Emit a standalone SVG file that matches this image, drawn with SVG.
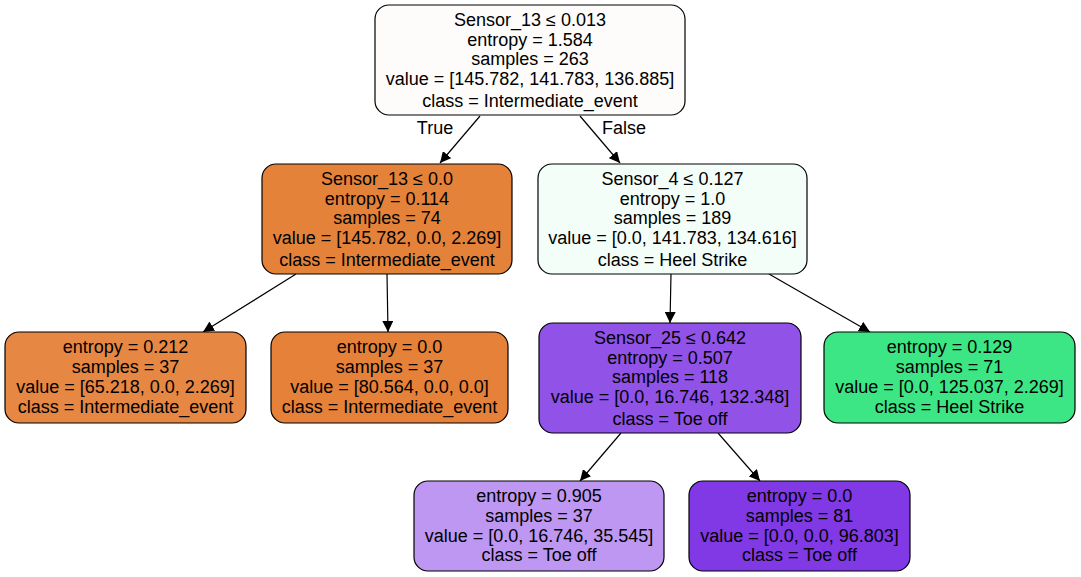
<svg xmlns="http://www.w3.org/2000/svg" width="1081" height="577" viewBox="0 0 1081 577">
<defs>
<marker id="arr" viewBox="0 0 10 10" refX="10" refY="5" markerWidth="11" markerHeight="11" markerUnits="userSpaceOnUse" orient="auto">
<path d="M0,0 L10,5 L0,10 z" fill="#000"/>
</marker>
</defs>
<style>
.n rect{stroke:#000;stroke-width:1.2}
text{font-family:"Liberation Sans",Arial,sans-serif;font-size:18px;fill:#000;text-anchor:middle}
.e line{stroke:#000;stroke-width:1.2;marker-end:url(#arr)}
</style>
<rect width="1081" height="577" fill="#fff"/>
<g class="e" id="edges">
<line x1="480" y1="116" x2="440" y2="163"/>
<line x1="580" y1="116" x2="620" y2="163"/>
<line x1="296" y1="274" x2="203" y2="332"/>
<line x1="387" y1="274" x2="388" y2="332"/>
<line x1="671" y1="274" x2="670" y2="323"/>
<line x1="769" y1="274" x2="870" y2="332"/>
<line x1="621" y1="433" x2="580" y2="481"/>
<line x1="718" y1="433" x2="760" y2="481"/>
<text x="435" y="134">True</text>
<text x="624" y="134">False</text>
</g>
<g class="n" id="n0">
<rect x="375" y="5" width="310" height="110" rx="14" fill="#fdfcfa"/>
<text x="530" y="26">Sensor_13 ≤ 0.013</text>
<text x="530" y="46">entropy = 1.584</text>
<text x="530" y="65">samples = 263</text>
<text x="530" y="85">value = [145.782, 141.783, 136.885]</text>
<text x="530" y="107">class = Intermediate_event</text>
</g>
<g class="n" id="n1">
<rect x="262" y="164" width="250" height="110" rx="14" fill="#e5823a"/>
<text x="387" y="185">Sensor_13 ≤ 0.0</text>
<text x="387" y="205">entropy = 0.114</text>
<text x="387" y="224">samples = 74</text>
<text x="387" y="244">value = [145.782, 0.0, 2.269]</text>
<text x="387" y="266">class = Intermediate_event</text>
</g>
<g class="n" id="n2">
<rect x="5" y="332" width="241" height="91" rx="14" fill="#e68743"/>
<text x="125.5" y="353">entropy = 0.212</text>
<text x="125.5" y="373">samples = 37</text>
<text x="125.5" y="393">value = [65.218, 0.0, 2.269]</text>
<text x="125.5" y="413">class = Intermediate_event</text>
</g>
<g class="n" id="n3">
<rect x="271" y="332" width="237" height="91" rx="14" fill="#e58139"/>
<text x="389.5" y="353">entropy = 0.0</text>
<text x="389.5" y="373">samples = 37</text>
<text x="389.5" y="393">value = [80.564, 0.0, 0.0]</text>
<text x="389.5" y="413">class = Intermediate_event</text>
</g>
<g class="n" id="n4">
<rect x="538" y="164" width="269" height="110" rx="14" fill="#f4fef9"/>
<text x="672.5" y="185">Sensor_4 ≤ 0.127</text>
<text x="672.5" y="205">entropy = 1.0</text>
<text x="672.5" y="224">samples = 189</text>
<text x="672.5" y="244">value = [0.0, 141.783, 134.616]</text>
<text x="672.5" y="266">class = Heel Strike</text>
</g>
<g class="n" id="n5">
<rect x="539" y="323" width="262" height="110" rx="14" fill="#9152e8"/>
<text x="670" y="344">Sensor_25 ≤ 0.642</text>
<text x="670" y="364">entropy = 0.507</text>
<text x="670" y="383">samples = 118</text>
<text x="670" y="403">value = [0.0, 16.746, 132.348]</text>
<text x="670" y="425">class = Toe off</text>
</g>
<g class="n" id="n6">
<rect x="414" y="481" width="250" height="90" rx="14" fill="#bd97f1"/>
<text x="539" y="502">entropy = 0.905</text>
<text x="539" y="522">samples = 37</text>
<text x="539" y="542">value = [0.0, 16.746, 35.545]</text>
<text x="539" y="561">class = Toe off</text>
</g>
<g class="n" id="n7">
<rect x="689" y="481" width="221" height="90" rx="14" fill="#8139e5"/>
<text x="799.5" y="502">entropy = 0.0</text>
<text x="799.5" y="522">samples = 81</text>
<text x="799.5" y="542">value = [0.0, 0.0, 96.803]</text>
<text x="799.5" y="561">class = Toe off</text>
</g>
<g class="n" id="n8">
<rect x="824" y="332" width="251" height="91" rx="14" fill="#3de684"/>
<text x="949.5" y="353">entropy = 0.129</text>
<text x="949.5" y="373">samples = 71</text>
<text x="949.5" y="393">value = [0.0, 125.037, 2.269]</text>
<text x="949.5" y="413">class = Heel Strike</text>
</g>
</svg>
